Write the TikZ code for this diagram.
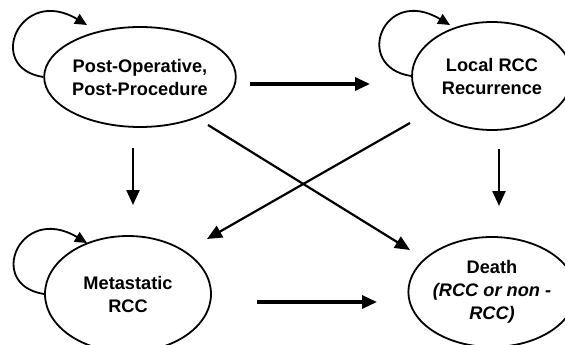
\documentclass[tikz,border=0pt]{standalone}
\usepackage{fontspec}
\setmainfont{Liberation Sans}
\usetikzlibrary{shapes.geometric,arrows.meta,calc}
\begin{document}
\begin{tikzpicture}[x=1pt,y=-1pt,
  state/.style={draw, ellipse, line width=1.8pt, inner sep=0pt, align=center,
    font=\fontsize{18.2}{23}\selectfont\bfseries},
  arr/.style={-{Triangle[length=15pt,width=13pt]}, line width=2.4pt},
  harr/.style={arr, line width=3.2pt},
  selfloop/.style={-{Triangle[length=12pt,width=11pt]}, line width=1.8pt}]
\clip (0,0) rectangle (565,345);
\node[state, minimum width=186pt, minimum height=100pt] (e1) at (140,77) {Post-Operative,\\Post-Procedure};
\node[state, minimum width=160pt, minimum height=108pt] (e2) at (492,76) {Local RCC\\Recurrence};
\node[state, minimum width=166pt, minimum height=116pt] (e3) at (128,294) {Metastatic\\RCC};
\node[state, minimum width=160pt, minimum height=110pt] (e4) at (492,292) {Death\\\textit{(RCC or non -}\\\textit{RCC)}};
% self loops
\coordinate (t1) at (87,25);
\coordinate (t2) at (450,25);
\coordinate (t3) at (87,243);
\draw[selfloop] (e1.west) .. controls +(-59,-9) and +(-67,-40) .. (t1);
\draw[selfloop] (e2.west) .. controls +(-59,-9) and +(-67,-40) .. (t2);
\draw[selfloop] (e3.west) .. controls +(-59,-9) and +(-67,-40) .. (t3);
% transitions
\draw[harr] ($(e1.center)+(110,7)$) -- ($(e2.center)+(-122,8)$);
\draw[harr] ($(e3.center)+(129,8)$) -- ($(e4.center)+(-115,10)$);
\draw[arr] ($(e1.center)+(-7,71)$) -- ($(e3.center)+(5,-89)$);
\draw[arr] ($(e2.center)+(7,73)$) -- ($(e4.center)+(7,-86)$);
\draw[arr, line width=2.2pt] ($(e1.center)+(68,48)$) -- ($(e4.center)+(-82,-42)$);
\draw[arr, line width=2.2pt] ($(e2.center)+(-82,47)$) -- ($(e3.center)+(79,-55)$);
\end{tikzpicture}
\end{document}
